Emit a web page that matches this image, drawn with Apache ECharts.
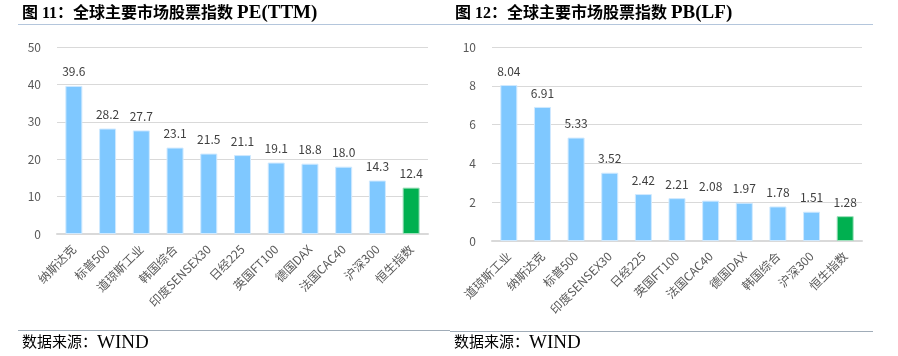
<!DOCTYPE html>
<html><head><meta charset="utf-8">
<script src="https://cdn.jsdelivr.net/npm/echarts@6/dist/echarts.min.js"></script>
<style>html,body{margin:0;padding:0;background:#fff}#c{width:898px;height:356px}</style>
</head><body><div id="c"></div>
<script>
const peCategories = ['纳斯达克','标普500','道琼斯工业','韩国综合','印度SENSEX30','日经225','英国FT100','德国DAX','法国CAC40','沪深300','恒生指数'];
const peValues = [39.6, 28.2, 27.7, 23.1, 21.5, 21.1, 19.1, 18.8, 18.0, 14.3, 12.4];
const pbCategories = ['道琼斯工业','纳斯达克','标普500','印度SENSEX30','日经225','英国FT100','法国CAC40','德国DAX','韩国综合','沪深300','恒生指数'];
const pbValues = [8.04, 6.91, 5.33, 3.52, 2.42, 2.21, 2.08, 1.97, 1.78, 1.51, 1.28];
const peTicks = [0, 10, 20, 30, 40, 50];
const pbTicks = [0, 2, 4, 6, 8, 10];
const titleCN = ['图 11：全球主要市场股票指数 ', '图 12：全球主要市场股票指数 '];
const titleEN = ['PE(TTM)', 'PB(LF)'];
const sourceCN = '数据来源：';
const sourceEN = 'WIND';

const BLUE = '#7FC8FF', GREEN = '#00B050';
const fontCJK = '"Noto Sans CJK SC", "Noto Sans", sans-serif';
const fontTitle = '"Liberation Serif", "Noto Sans CJK SC", serif';

function barData(vals, digits) {
  return vals.map((v, i) => ({
    value: v,
    itemStyle: { color: i === vals.length - 1 ? GREEN : BLUE, borderColor: i === vals.length - 1 ? '#9fe0bc' : '#cfe9ff', borderWidth: 1 },
    label: { formatter: () => v.toFixed(digits) }
  }));
}
function xAx(idx, cats) {
  return { type: 'category', gridIndex: idx, data: cats,
    axisLine: { lineStyle: { color: '#d9d9d9', width: 2 } }, axisTick: { show: false },
    axisLabel: { rotate: 45, interval: 0, color: '#595959', fontSize: 12, fontFamily: fontCJK, margin: 13 } };
}
function yAx(idx, ticks) {
  return { type: 'value', gridIndex: idx, min: ticks[0], max: ticks[ticks.length - 1], interval: ticks[1] - ticks[0],
    axisLine: { show: false }, axisTick: { show: false },
    splitLine: { lineStyle: { color: '#d9d9d9', width: 1 } },
    axisLabel: { color: '#595959', fontSize: 12, fontFamily: fontCJK, margin: 16 } };
}
function titleText(i, x) {
  return { type: 'text', left: x, top: 4, style: {
    text: '{a|' + titleCN[i] + '}{b|' + titleEN[i] + '}',
    rich: { a: { font: 'bold 16px ' + fontTitle, fill: '#000' }, b: { font: 'bold 19px "Liberation Serif", serif', fill: '#000' } } } };
}
function sourceText(x) {
  return { type: 'text', left: x, top: 334, style: {
    text: '{a|' + sourceCN + '}{b|' + sourceEN + '}',
    rich: { a: { font: '15px ' + fontTitle, fill: '#000' }, b: { font: '19px "Liberation Serif", serif', fill: '#000' } } } };
}
const chart = echarts.init(document.getElementById('c'), null, { renderer: 'canvas' });
chart.setOption({
  animation: false,
  backgroundColor: '#fff',
  grid: [
    { left: 57, right: 470, top: 47, bottom: 122 },
    { left: 492, right: 36, top: 47, bottom: 115 }
  ],
  xAxis: [xAx(0, peCategories), xAx(1, pbCategories)],
  yAxis: [yAx(0, peTicks), yAx(1, pbTicks)],
  series: [
    { type: 'bar', xAxisIndex: 0, yAxisIndex: 0, barWidth: 17, data: barData(peValues, 1),
      label: { show: true, position: 'top', distance: 8, color: '#404040', fontSize: 12, fontFamily: fontCJK } },
    { type: 'bar', xAxisIndex: 1, yAxisIndex: 1, barWidth: 17, data: barData(pbValues, 2),
      label: { show: true, position: 'top', distance: 8, color: '#404040', fontSize: 12, fontFamily: fontCJK } }
  ],
  graphic: [
    titleText(0, 22),
    titleText(1, 455),
    { type: 'line', shape: { x1: 18, y1: 24.5, x2: 450, y2: 24.5 }, style: { stroke: '#b4c6dc', lineWidth: 1 } },
    { type: 'line', shape: { x1: 450, y1: 24.5, x2: 873, y2: 24.5 }, style: { stroke: '#b4c6dc', lineWidth: 1 } },
    { type: 'line', shape: { x1: 18, y1: 330.5, x2: 450, y2: 330.5 }, style: { stroke: '#a0acb8', lineWidth: 1 } },
    { type: 'line', shape: { x1: 450, y1: 331.5, x2: 873, y2: 331.5 }, style: { stroke: '#a0acb8', lineWidth: 1 } },
    sourceText(22),
    sourceText(454)
  ]
});
</script></body></html>
